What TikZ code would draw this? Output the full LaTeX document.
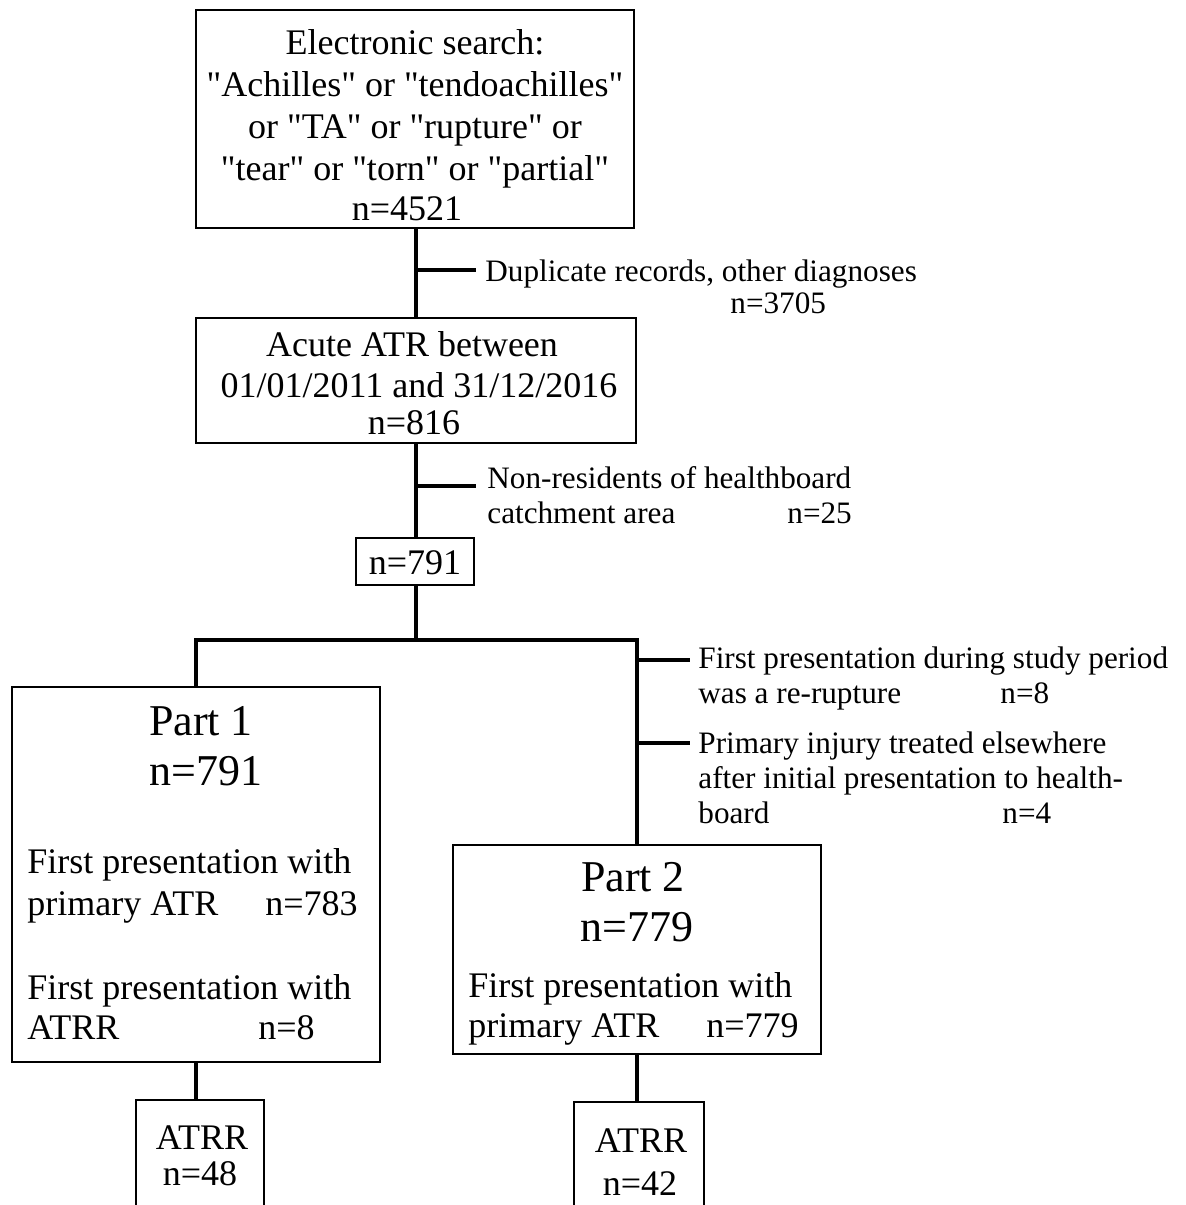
\documentclass[tikz,border=0pt]{standalone}
\usepackage{fontspec}
\setmainfont{Liberation Serif}[Ligatures=TeXOff]
\newcommand\fmain{\fontsize{18}{21}\selectfont}
\newcommand\fside{\fontsize{15.6}{18}\selectfont}
\newcommand\fbig{\fontsize{22}{25}\selectfont}
\begin{document}
\begin{tikzpicture}[x=0.5pt,y=-0.5pt,
  box/.style={draw, line width=0.8pt, inner sep=0pt},
  conn/.style={line width=2pt},
  tc/.style={inner sep=0pt, anchor=base, font=\fmain},
  tl/.style={inner sep=0pt, anchor=base west, font=\fmain},
  sl/.style={inner sep=0pt, anchor=base west, font=\fside},
  bc/.style={inner sep=0pt, anchor=base, font=\fbig}]
\useasboundingbox (0,0) rectangle (1186,1205);
% boxes
\node[box, minimum width=219pt, minimum height=109pt] (box1) at (415,119) {};
\node[box, minimum width=220pt, minimum height=62.5pt] (box2) at (416,380.5) {};
\node[box, minimum width=59pt, minimum height=23.5pt] (box3) at (415,561.5) {};
\node[box, minimum width=184pt, minimum height=187.5pt] (part1) at (196,874.5) {};
\node[box, minimum width=184pt, minimum height=104.5pt] (part2) at (637,949.5) {};
\node[box, minimum width=64pt, minimum height=65pt] (atrr1) at (200,1165) {};
\node[box, minimum width=65pt, minimum height=65pt] (atrr2) at (639,1167) {};
% box texts
\node[tc] (b1l1) at (415,54) {Electronic search:};
\node[tc] (b1l2) at (415,96) {"Achilles" or "tendoachilles"};
\node[tc] (b1l3) at (415,138) {or "TA" or "rupture" or};
\node[tc] (b1l4) at (415,180) {"tear" or "torn" or "partial"};
\node[tc] (b1l5) at (407,220) {n=4521};
\node[tc] (b2l1) at (412,356) {Acute ATR between};
\node[tc] (b2l2) at (419,397) {01/01/2011 and 31/12/2016};
\node[tc] (b2l3) at (414,434) {n=816};
\node[tc] (b3l1) at (415,574) {n=791};
\node[bc] (p1a) at (201,735) {Part 1};
\node[bc] (p1b) at (206,785) {n=791};
\node[tl] (p1c) at (27,873) {First presentation with};
\node[tl] (p1d) at (27,915) {primary ATR};
\node[tl] (p1e) at (265,915) {n=783};
\node[tl] (p1f) at (27,999) {First presentation with};
\node[tl] (p1g) at (27,1039) {ATRR};
\node[tl] (p1h) at (258,1039) {n=8};
\node[bc] (p2a) at (633,891) {Part 2};
\node[bc] (p2b) at (637,941) {n=779};
\node[tl] (p2c) at (468,997) {First presentation with};
\node[tl] (p2d) at (468,1037) {primary ATR};
\node[tl] (p2e) at (706,1037) {n=779};
\node[tc] (a1a) at (202,1149) {ATRR};
\node[tc] (a1b) at (200,1185) {n=48};
\node[tc] (a2a) at (641,1152) {ATRR};
\node[tc] (a2b) at (640,1195) {n=42};
% side labels
\node[sl] (s1a) at (485,281) {Duplicate records, other diagnoses};
\node[sl] (s1b) at (730,313) {n=3705};
\node[sl] (s2a) at (487,488) {Non-residents of healthboard};
\node[sl] (s2b) at (487,523) {catchment area};
\node[sl] (s2c) at (787,523) {n=25};
\node[sl] (s3a) at (698,668) {First presentation during study period};
\node[sl] (s3b) at (698,703) {was a re-rupture};
\node[sl] (s3c) at (1000,703) {n=8};
\node[sl] (s4a) at (698,753) {Primary injury treated elsewhere};
\node[sl] (s4b) at (698,788) {after initial presentation to health-};
\node[sl] (s4c) at (698,823) {board};
\node[sl] (s4d) at (1002,823) {n=4};
% connector points
\coordinate (br1) at (476,270);
\coordinate (br2) at (476,486);
\coordinate (split) at (416,640);
\coordinate (br3) at (690,660);
\coordinate (br4) at (690,743);
% connectors
\draw[conn] (box1.south -| split) -- (box2.north -| split);
\draw[conn] (br1 -| split) -- (br1);
\draw[conn] (box2.south -| split) -- (box3.north -| split);
\draw[conn] (br2 -| split) -- (br2);
\draw[conn] (box3.south -| split) -- (split);
\draw[conn] (part1.north) |- (split) -| (part2.north);
\draw[conn] (br3 -| part2.north) -- (br3);
\draw[conn] (br4 -| part2.north) -- (br4);
\draw[conn] (part1.south) -- (part1.south |- atrr1.north);
\draw[conn] (part2.south) -- (part2.south |- atrr2.north);
\end{tikzpicture}
\end{document}
